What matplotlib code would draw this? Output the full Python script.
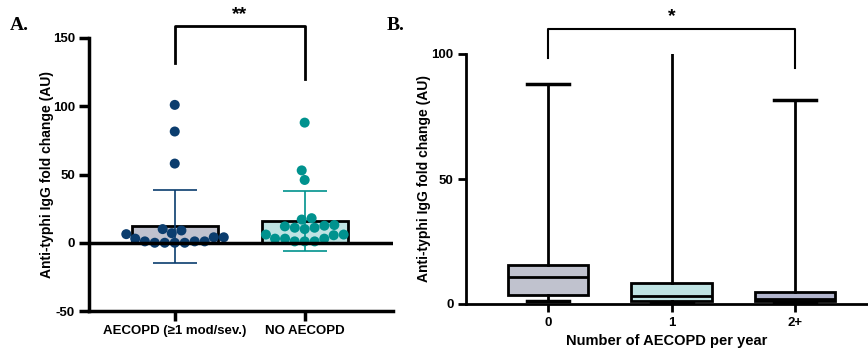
import numpy as np
import matplotlib.pyplot as plt

plt.rcParams['font.family'] = ['Liberation Sans', 'DejaVu Sans']
plt.rcParams['font.weight'] = 'bold'
plt.rcParams['axes.unicode_minus'] = False

# panel A data
groups_a = ['AECOPD (≥1 mod/sev.)', 'NO AECOPD']
aecopd_vals = [101, 81.5, 58, 10, 9, 7, 6.3, 4, 4, 3, 1, 1, 1, 0, 0, 0, 0]
no_aecopd_vals = [88, 53, 46, 18, 17, 13, 12.5, 12, 11, 11, 10, 6, 6, 5.5,
                  3, 3, 3, 1, 1, 1]
means_a = [12, 16]
sds_a = [26.5, 22]

# panel B data
groups_b = ['0', '1', '2+']
box_q1 = [3.5, 1.3, 1.3]
box_med = [10.7, 3.2, 2.0]
box_q3 = [15.6, 8.3, 4.7]
box_lo = [1.2, 0.5, 0.4]
box_hi = [88, 103, 81.6]

dark_blue = '#0b3d6e'
teal = '#00928e'
bar_fills = ['#c0c2ce', '#bfe3e3']
box_fills = ['#c0c2ce', '#bfe3e3', '#b2b5cd']


def swarm_offsets(ax, xc, vals, diam):
    """simple beeswarm in pixel space, returns x offsets in data units"""
    trans = ax.transData
    ypix = [trans.transform((xc, v))[1] for v in vals]
    x0 = trans.transform((xc, 0))[0]
    px_per_x = trans.transform((xc + 1, 0))[0] - x0
    order = np.argsort(ypix)
    placed = []
    offs = np.zeros(len(vals))
    for i in order:
        y = ypix[i]
        cands = [0.0]
        for (px, py) in placed:
            dy = abs(py - y)
            if dy < diam:
                dx = np.sqrt(diam ** 2 - dy ** 2)
                cands += [px - dx, px + dx]
        cands.sort(key=abs)
        for c in cands:
            if all((c - px) ** 2 + (y - py) ** 2 >= diam ** 2 - 1e-6 for px, py in placed):
                break
        placed.append((c, y))
        offs[i] = c / px_per_x
    return offs


fig = plt.figure(figsize=(8.68, 3.52), dpi=100)

# ---------------- panel A ----------------
axA = fig.add_axes([89 / 868, 1 - 311 / 352, (393 - 89) / 868, (311 - 38) / 352])
xa = np.arange(len(groups_a))
axA.set_xlim(-0.66, 1.68)
axA.set_ylim(-50, 150)

axA.bar(xa, means_a, width=0.66, color=bar_fills, edgecolor='black',
        linewidth=2, zorder=2)
for i, (m, s, c) in enumerate(zip(means_a, sds_a, [dark_blue, teal])):
    axA.errorbar(xa[i], m, yerr=s, color=c, lw=1.2, capsize=15.5,
                 capthick=1.2, zorder=2.5)

for i, (vals, c) in enumerate(zip([aecopd_vals, no_aecopd_vals], [dark_blue, teal])):
    offs = swarm_offsets(axA, xa[i], vals, 10)
    axA.scatter(xa[i] + offs, vals, s=52, color=c, edgecolor='none', zorder=3)

axA.axhline(0, color='black', lw=2.5, zorder=4)

axA.set_yticks([-50, 0, 50, 100, 150])
axA.set_xticks(xa)
axA.set_xticklabels(groups_a)
axA.set_ylabel('Anti-typhi IgG fold change (AU)', fontsize=10, fontweight='bold',
               labelpad=-1)
for sp in ['top', 'right']:
    axA.spines[sp].set_visible(False)
for sp in ['left', 'bottom']:
    axA.spines[sp].set_linewidth(2.5)
axA.tick_params(width=2.5, length=7, labelsize=9.5, pad=3)

# bracket
axA.plot([0, 0, 1, 1], [132, 159, 159, 120], color='black', lw=2,
         clip_on=False)
axA.text(0.5, 161, '**', ha='center', va='bottom', fontsize=14,
         fontweight='bold')

fig.text(10 / 868, 1 - 25 / 352, 'A.', family='Liberation Serif',
         fontsize=14, fontweight='bold', va='center')

# ---------------- panel B ----------------
axB = fig.add_axes([466 / 868, 1 - 304 / 352, (868 - 466) / 868, (304 - 54) / 352])
xb = np.arange(len(groups_b))

stats = []
for i in range(len(groups_b)):
    stats.append(dict(q1=box_q1[i], med=box_med[i], q3=box_q3[i],
                      whislo=box_lo[i], whishi=box_hi[i], fliers=[],
                      label=groups_b[i]))
bp = axB.bxp(stats, positions=xb, widths=0.65, capwidths=0.34,
             patch_artist=True, showfliers=False,
             boxprops=dict(linewidth=2, edgecolor='black'),
             medianprops=dict(color='black', linewidth=2),
             whiskerprops=dict(color='black', linewidth=2),
             capprops=dict(color='black', linewidth=2.5))
for patch, fc in zip(bp['boxes'], box_fills):
    patch.set_facecolor(fc)

axB.set_xlim(-0.664, 2.59)
axB.set_ylim(0, 100)
axB.set_yticks([0, 50, 100])
axB.set_xlabel('Number of AECOPD per year', fontsize=10.5, fontweight='bold',
               labelpad=4)
axB.set_ylabel('Anti-typhi IgG fold change (AU)', fontsize=10, fontweight='bold',
               labelpad=0)
for sp in ['top', 'right']:
    axB.spines[sp].set_visible(False)
for sp in ['left', 'bottom']:
    axB.spines[sp].set_linewidth(2)
axB.tick_params(width=2, length=6, labelsize=9.5, pad=3)

axB.plot([0, 0, 2, 2], [98.4, 110, 110, 94.4], color='black', lw=1.5,
         clip_on=False)
axB.text(1, 111.5, '*', ha='center', va='bottom', fontsize=14,
         fontweight='bold')

fig.text(387 / 868, 1 - 25 / 352, 'B.', family='Liberation Serif',
         fontsize=14, fontweight='bold', va='center')

fig.savefig('out.png', dpi=100)
